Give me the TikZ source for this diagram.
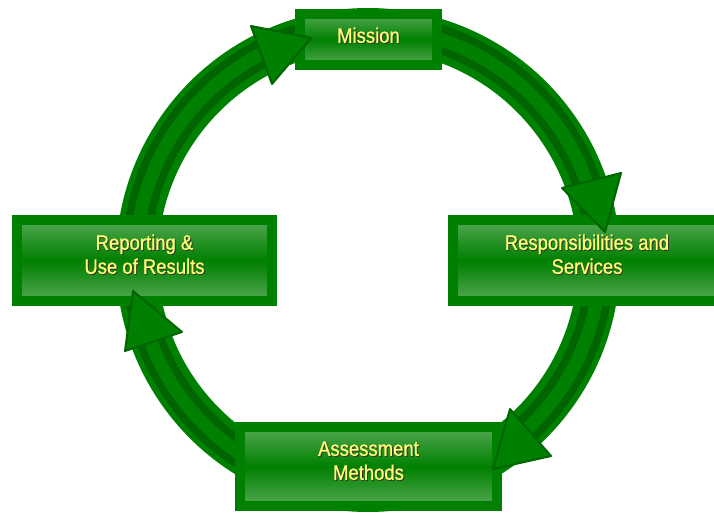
\documentclass[tikz,border=0pt]{standalone}
\usepackage{fontspec}
\setmainfont{Liberation Sans}[FakeStretch=0.88,FakeBold=0.8]
\usepackage{tikz}
\usetikzlibrary{calc}
\definecolor{ringgreen}{RGB}{0,128,0}
\definecolor{stripegreen}{RGB}{0,100,0}
\definecolor{lightgreen}{RGB}{82,168,82}
\definecolor{textyellow}{RGB}{255,255,120}
\definecolor{shadowgrey}{RGB}{55,55,40}
\newcommand{\shadowed}[2][0pt]{\raisebox{#1}[\height][\depth]{\makebox[0pt][l]{\raisebox{-1pt}{\hspace{1pt}\color{shadowgrey}\begin{tabular}{@{}c@{}}#2\end{tabular}}}\begin{tabular}{@{}c@{}}#2\end{tabular}}}
\tikzset{stage/.style={draw=ringgreen, line width=10pt, top color=lightgreen, bottom color=lightgreen, middle color=ringgreen, text=textyellow, font=\fontsize{21}{24}\selectfont, inner sep=0pt},
head/.style={fill=ringgreen, draw=stripegreen, line width=2pt, line join=round}}

\begin{document}
\begin{tikzpicture}[x=1pt,y=-1pt]
		\useasboundingbox (0,0) rectangle (714,516);
		\clip (0,0) rectangle (714,516);
		\coordinate (c) at (368,260);
		% ring
		\draw[ringgreen, line width=42pt] (c) circle (231);
		\draw[stripegreen, line width=7.5pt] (c) circle (242.5) (c) circle (221.5);
		% stages
		\node[stage, minimum width=137pt, minimum height=51pt] (mission) at (368.5,39.5) {\shadowed[1pt]{Mission}};
		\node[stage, minimum width=268pt, minimum height=81pt] (services) at (587,260.5) {\shadowed[3pt]{Responsibilities and\\Services}};
		\node[stage, minimum width=257pt, minimum height=79pt] (methods) at (368.5,466.5) {\shadowed[3pt]{Assessment\\Methods}};
		\node[stage, minimum width=255pt, minimum height=81pt] (results) at (144.5,260.5) {\shadowed[3pt]{Reporting \&\\Use of Results}};
		% arrow heads
		\draw[head] (251,26) -- (311,38) -- (272,84) -- cycle;
		\draw[head] (562,188) -- (621,173) -- (605,232) -- cycle;
		\draw[head] (510,409) -- (551,456) -- (493,469) -- cycle;
		\draw[head] (125,351) -- (182,332) -- (133,291) -- cycle;
\end{tikzpicture}
\end{document}
